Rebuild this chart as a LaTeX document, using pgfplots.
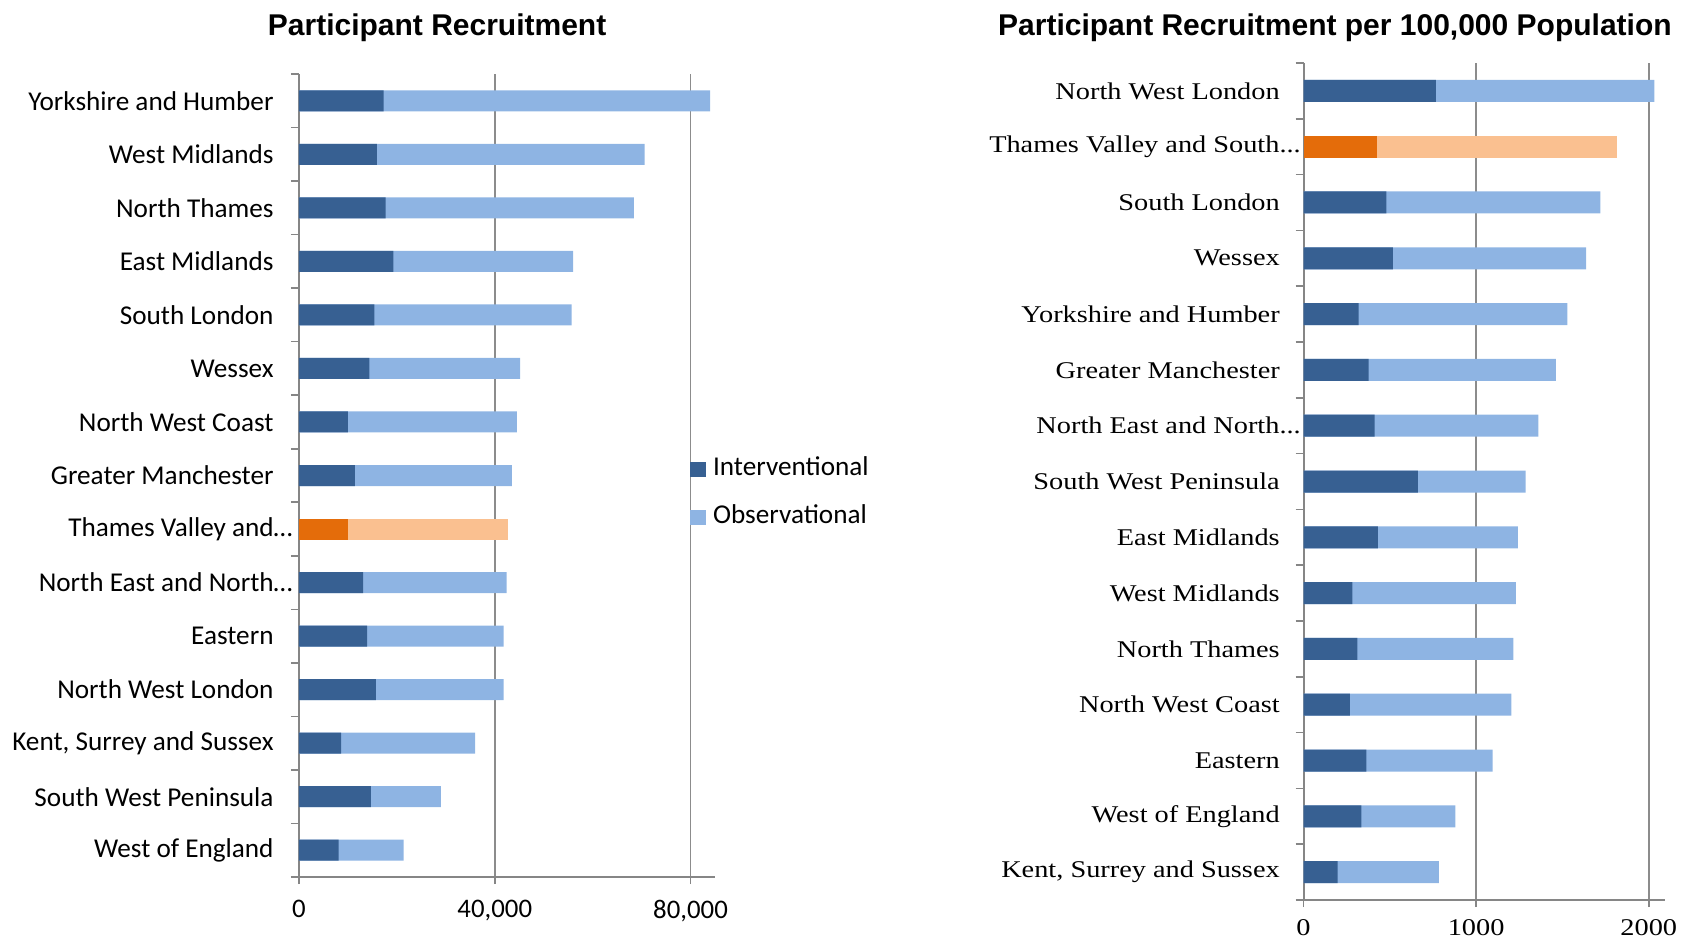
\documentclass[border=0pt]{standalone}
\usepackage{fontspec}
\setmainfont{Carlito}
\newfontfamily\calibri{Carlito}
\newfontfamily\cambria[FakeStretch=1.18]{Liberation Serif}
\newfontfamily\arial{Liberation Sans}
\usepackage{pgfplots}
\usepackage{pgfplotstable}
\pgfplotsset{compat=1.18}
\definecolor{dblue}{HTML}{376092}
\definecolor{lblue}{HTML}{8EB4E3}
\definecolor{dorange}{HTML}{E46C0A}
\definecolor{lorange}{HTML}{FAC090}
\definecolor{axisgray}{HTML}{868686}
\definecolor{gridgray}{HTML}{8C8C8C}
\newcommand{\tdots}{.\kern0pt.\kern0pt.}

\pgfplotstableread{
y int obs
14 17300 66700
13 15900 54700
12 17700 50700
11 19300 36700
10 15400 40300
9 14400 30800
8 10000 34500
7 11400 32100
5 13100 29300
4 13900 27900
3 15700 26100
2 8600 27400
1 14700 14300
0 8100 13300
}\leftdata
\pgfplotstableread{
y int obs
6 10000 32700
}\leftthames
\pgfplotstableread{
y int obs
14 766 1266
12 480 1239
11 518 1119
10 319 1210
9 377 1085
8 412 948
7 662 624
6 431 811
5 283 947
4 312 904
3 268 936
2 364 732
1 335 545
0 198 586
}\rightdata
\pgfplotstableread{
y int obs
13 427 1389
}\rightthames

\pgfplotsset{
  common/.style={
    scale only axis,
    anchor=north west,
    ymin=-0.5, ymax=14.5,
    xmin=0,
    axis x line*=bottom, axis y line*=left,
    axis line style={draw=axisgray, line width=1pt, -},
    xmajorgrids, grid style={gridgray, line width=0.9pt},
    tick align=outside, major tick length=3.5pt,
    tick style={draw=axisgray, line width=0.8pt},
    ytick={0,...,14},
    ytick style={draw=none},
    extra y ticks={-0.5,0.5,...,14.5},
    extra y tick labels={},
    extra y tick style={ytick style={draw=axisgray}, major tick length=4pt, grid=none},
    scaled x ticks=false,
    /pgf/number format/assume math mode=true,
  },
}

\begin{document}
\begin{tikzpicture}
\path[use as bounding box] (0pt,0pt) rectangle (846pt,-470.5pt);

\begin{axis}[common,
  at={(149.5pt,-37pt)}, width=208pt, height=401.5pt,
  xmax=85000,
  xtick={0,40000,80000},
  /pgf/number format/1000 sep={,},
  xticklabel style={font=\calibri\fontsize{13.4}{15}\selectfont, yshift=-4.4pt},
  yticklabel style={font=\calibri\fontsize{13.6}{15}\selectfont, xshift=-5.7pt},
  yticklabels={West of England, South West Peninsula, {Kent, Surrey and Sussex}, North West London, Eastern, {North East and North…\kern-9.5pt}, {Thames Valley and…\kern-9.5pt}, Greater Manchester, North West Coast, Wessex, South London, East Midlands, North Thames, West Midlands, Yorkshire and Humber},
  title={Participant Recruitment},
  title style={font=\arial\bfseries\fontsize{15}{18}\selectfont, at={(0.332,1)}, anchor=center, yshift=17.1pt},
  legend image code/.code={\fill[#1, draw=none] (0pt,-3.75pt) rectangle (8pt,3.75pt);},
  legend style={at={(0.941,0.4776)}, anchor=west, draw=none, fill=none, inner sep=0pt, outer sep=0pt,
    font=\calibri\fontsize{13.6}{15}\selectfont, row sep=11.7pt,
    nodes={inner sep=0pt, text height=9pt, text depth=3pt},
    /tikz/every odd column/.style={column sep=3.3pt}},
  legend cell align=left,
]
\addplot[xbar, bar shift=0pt, bar width=10.5pt, fill=lblue, draw=none, forget plot] table[x expr=\thisrow{int}+\thisrow{obs}, y=y] {\leftdata};
\addplot[xbar, bar shift=0pt, bar width=10.5pt, fill=dblue, draw=none, forget plot] table[x=int, y=y] {\leftdata};
\addplot[xbar, bar shift=0pt, bar width=10.5pt, fill=lorange, draw=none, forget plot] table[x expr=\thisrow{int}+\thisrow{obs}, y=y] {\leftthames};
\addplot[xbar, bar shift=0pt, bar width=10.5pt, fill=dorange, draw=none, forget plot] table[x=int, y=y] {\leftthames};
\addlegendimage{fill=dblue, draw=none}
\addlegendentry{Interventional}
\addlegendimage{fill=lblue, draw=none}
\addlegendentry{Observational}
\end{axis}

\begin{axis}[common,
  at={(651.75pt,-31.5pt)}, width=180.75pt, height=418.5pt,
  xmax=2094,
  xtick={0,1000,2000},
  /pgf/number format/1000 sep={},
  xticklabel style={font=\cambria\fontsize{12}{14}\selectfont, yshift=-2.5pt},
  yticklabel style={font=\cambria\fontsize{12}{14}\selectfont, xshift=-4.85pt},
  yticklabels={{Kent, Surrey and Sussex}, West of England, Eastern, North West Coast, North Thames, West Midlands, East Midlands, South West Peninsula, {North East and North\tdots\kern-10.5pt}, Greater Manchester, Yorkshire and Humber, Wessex, South London, {Thames Valley and South\tdots\kern-10.5pt}, North West London},
  title={Participant Recruitment per 100,000 Population},
  title style={font=\arial\bfseries\fontsize{15}{18}\selectfont, at={(0.087,1)}, anchor=center, yshift=11.6pt},
]
\addplot[xbar, bar shift=0pt, bar width=11pt, fill=lblue, draw=none] table[x expr=\thisrow{int}+\thisrow{obs}, y=y] {\rightdata};
\addplot[xbar, bar shift=0pt, bar width=11pt, fill=dblue, draw=none] table[x=int, y=y] {\rightdata};
\addplot[xbar, bar shift=0pt, bar width=11pt, fill=lorange, draw=none] table[x expr=\thisrow{int}+\thisrow{obs}, y=y] {\rightthames};
\addplot[xbar, bar shift=0pt, bar width=11pt, fill=dorange, draw=none] table[x=int, y=y] {\rightthames};
\end{axis}
\end{tikzpicture}
\end{document}
